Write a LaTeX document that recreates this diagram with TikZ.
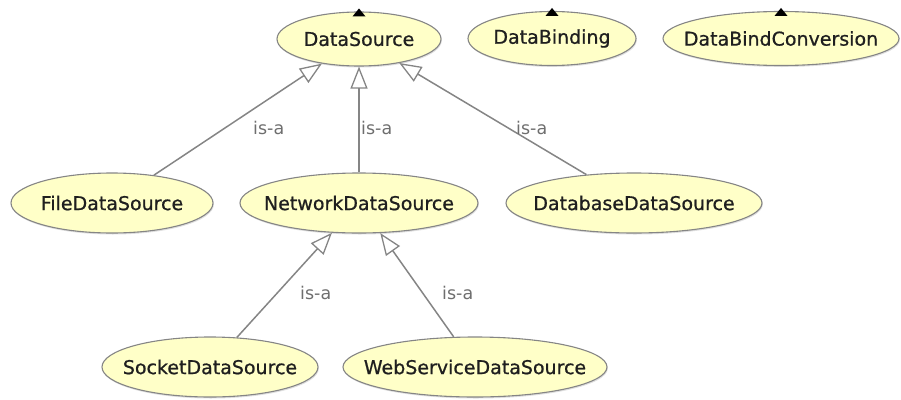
\documentclass[tikz,border=0pt]{standalone}
\usepackage{fontspec}
\setmainfont{DejaVu Sans}
\newfontfamily\clsfam[FakeBold=0.8]{DejaVu Sans}
\usetikzlibrary{shapes.geometric,arrows.meta,calc,shadows}
\definecolor{nodefill}{HTML}{FFFFC8}
\definecolor{edgegray}{HTML}{858585}
\definecolor{labgray}{HTML}{6E6E6E}
\newcommand\clsfont{\clsfam\fontsize{19}{21}\selectfont}
\newcommand\isafont{\fontsize{17.5}{19}\selectfont}
\begin{document}
\begin{tikzpicture}[x=1pt,y=-1pt,
  cls/.style={ellipse, draw=edgegray, fill=nodefill, line width=1.1pt, inner sep=0pt,
    drop shadow={shadow xshift=0.8pt,shadow yshift=-1.5pt,opacity=0.25}},
  top/.style={cls, minimum height=54pt},
  low/.style={cls, minimum height=60pt},
  txt/.style={label={[font=\clsfont, text=black!88]center:#1}},
  isa/.style={draw=edgegray, line width=1.5pt, -{Triangle[length=22pt,width=17pt,fill=white,line width=1.3pt]}},
  isalab/.style={font=\isafont, text=labgray, anchor=west, inner sep=0pt}
]
\useasboundingbox (0,0) rectangle (901,399);
% top row
\node[top, minimum width=164pt, txt=DataSource] (ds) at (359,39) {};
\node[top, minimum width=168pt, txt=DataBinding] (db) at (552,38.5) {};
\node[top, minimum width=236pt, txt=DataBindConversion] (dbc) at (781,38.5) {};
% middle row
\node[low, minimum width=202pt, txt=FileDataSource] (fds) at (112,203) {};
\node[low, minimum width=238pt, txt=NetworkDataSource] (nds) at (359,203) {};
\node[low, minimum width=256pt, txt=DatabaseDataSource] (dbds) at (634,203) {};
% bottom row
\node[low, minimum width=216pt, txt=SocketDataSource] (sds) at (210,367) {};
\node[low, minimum width=264pt, txt=WebServiceDataSource] (wds) at (475,367) {};
% marks on top
\foreach \n in {ds,db,dbc}{
  \fill ($(\n.north)+(0,-3)$) -- ($(\n.north)+(-6.5,5)$) -- ($(\n.north)+(6.5,5)$) -- cycle;
}
% edges
\draw[isa] (fds) -- (ds);
\draw[isa] (nds) -- (ds);
\draw[isa] (dbds) -- (ds);
\draw[isa] (sds) -- (nds);
\draw[isa] (wds) -- (nds);
% labels
\node[isalab] (l1) at (253,128) {is-a};
\node[isalab] (l2) at (361,128) {is-a};
\node[isalab] (l3) at (516,128) {is-a};
\node[isalab] (l4) at (300,293) {is-a};
\node[isalab] (l5) at (442,293) {is-a};
\end{tikzpicture}
\end{document}
